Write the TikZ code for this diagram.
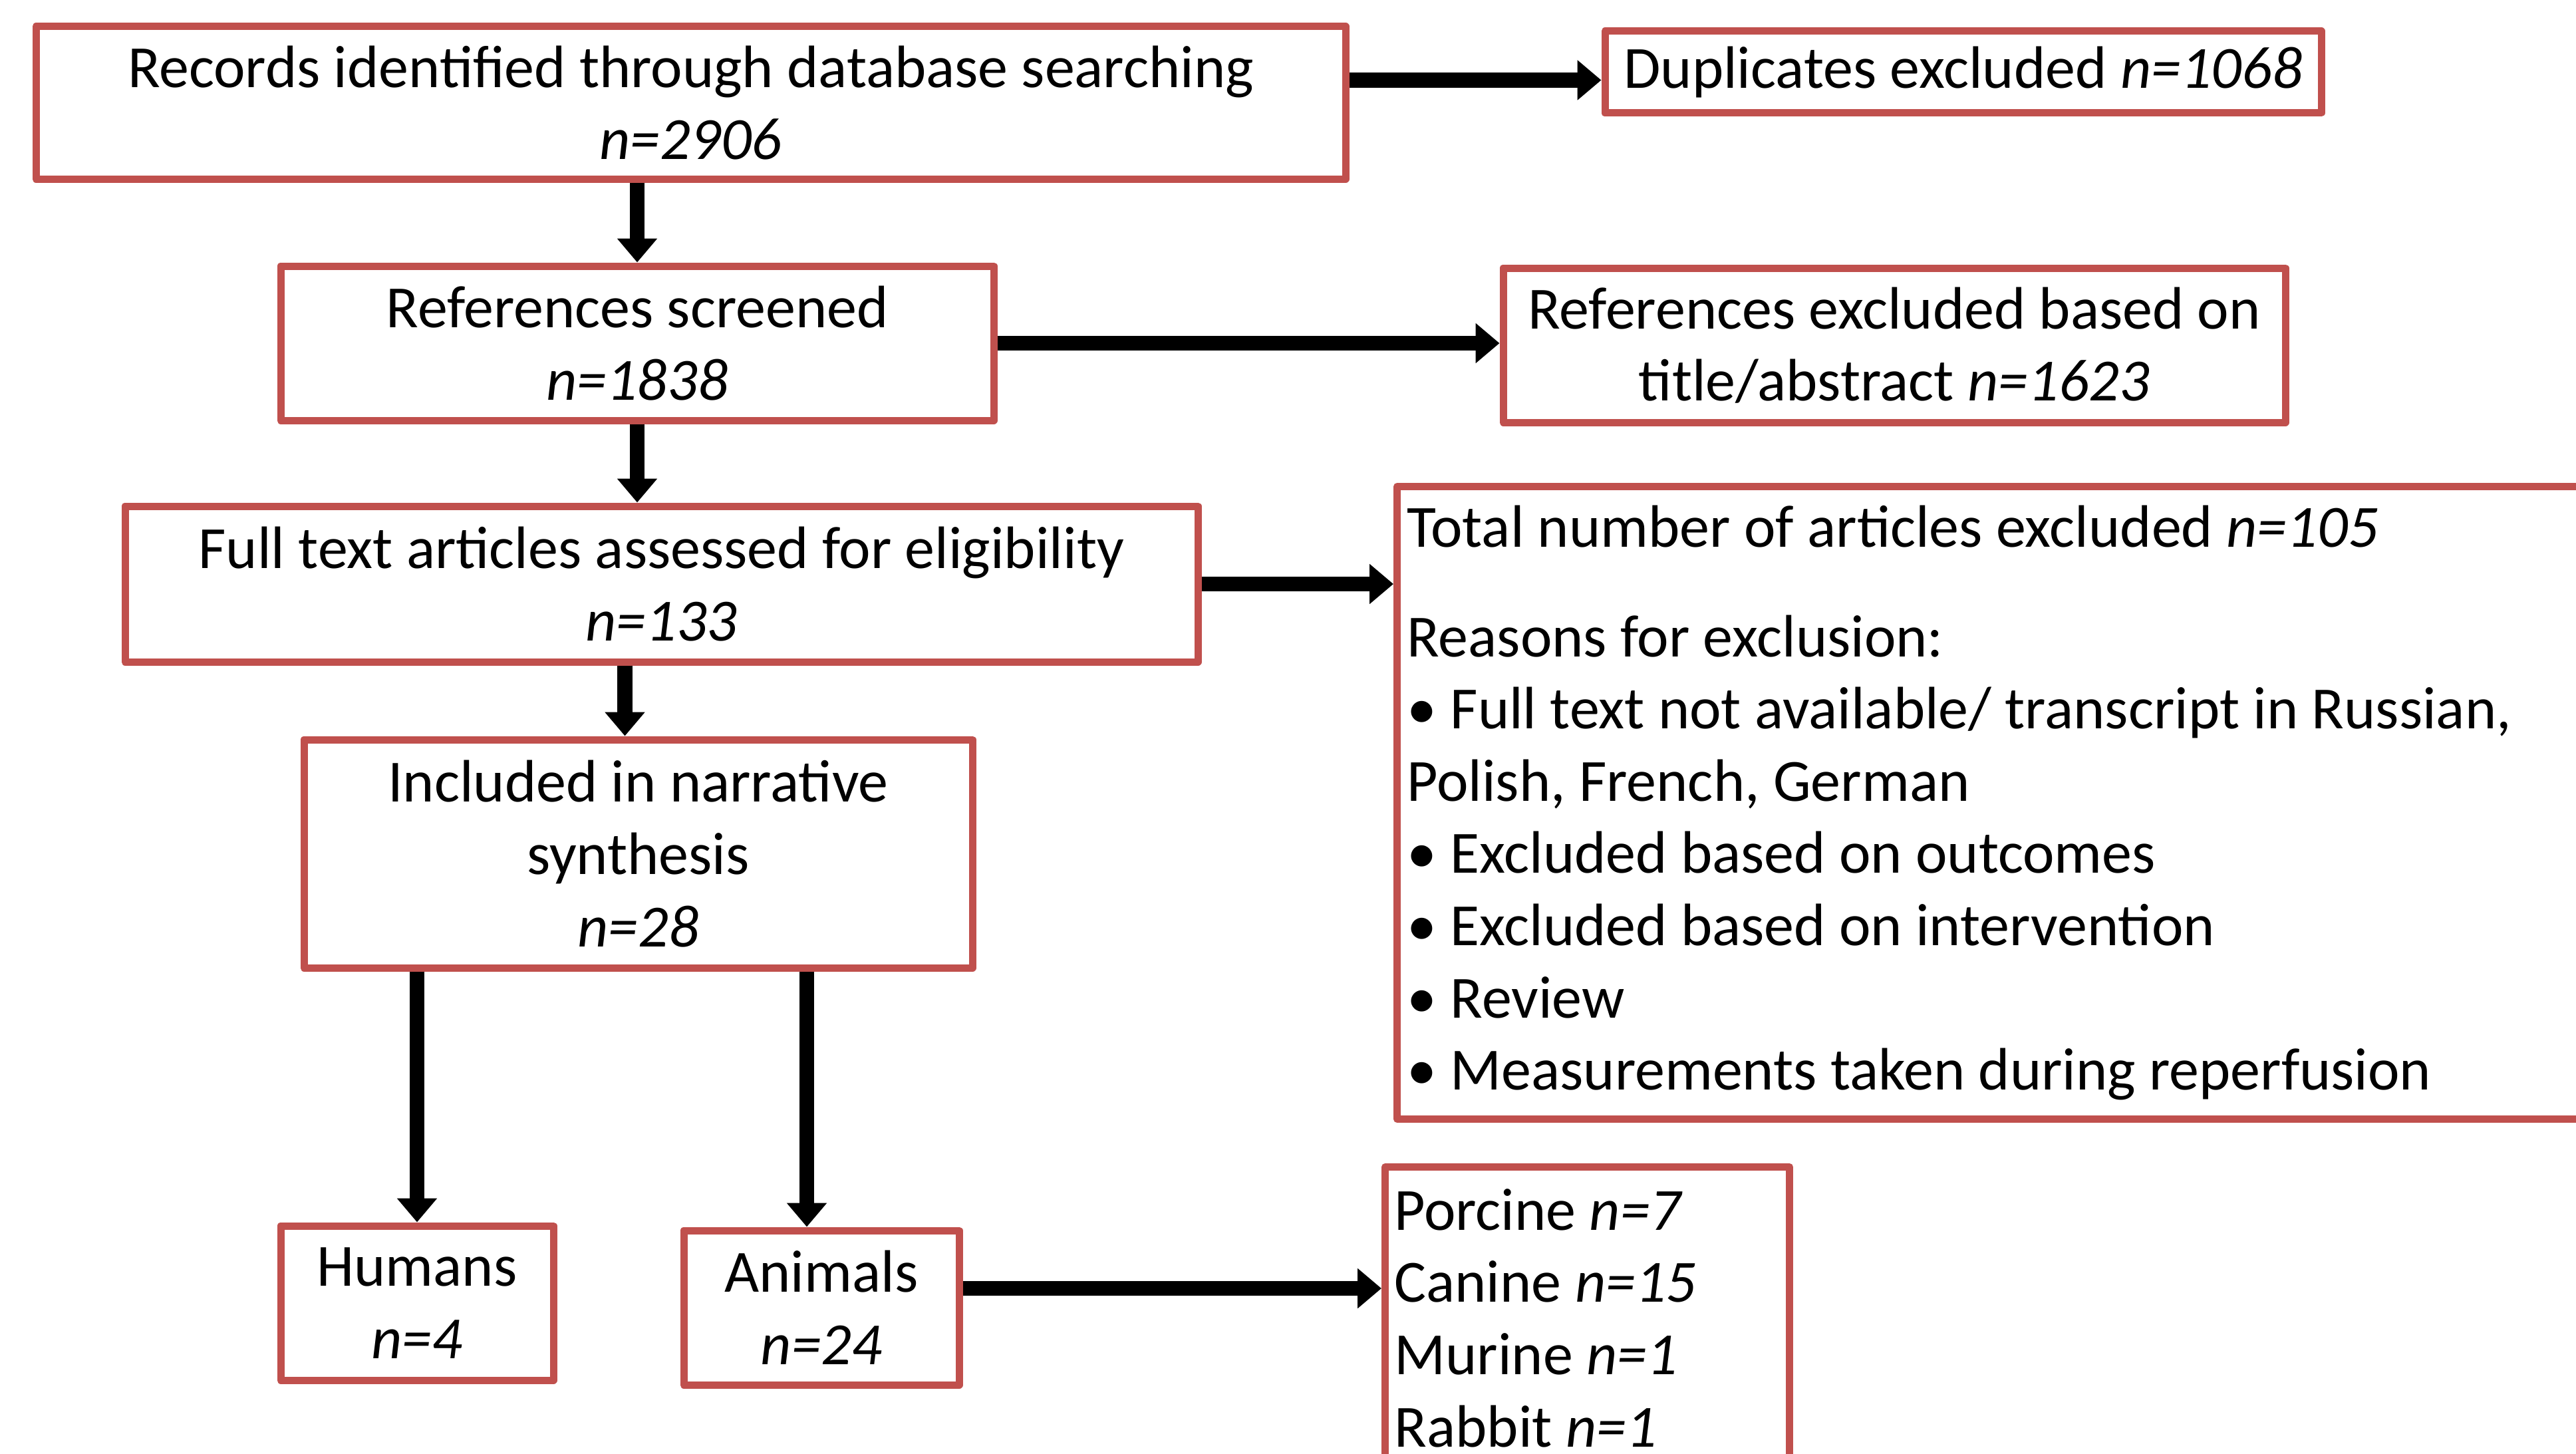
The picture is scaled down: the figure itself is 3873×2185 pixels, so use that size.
\documentclass[tikz,border=0pt]{standalone}
\usepackage{fontspec}
\setmainfont{Carlito}
\usetikzlibrary{arrows.meta,calc}
\newlength\pxu
\setlength\pxu{0.01cm}
\definecolor{boxred}{HTML}{C0504D}
\newcommand\mainfs{\fontsize{25.6pt}{30.9pt}\selectfont}
% keep the font's own word spacing inside left-aligned nodes
\newcommand\fontspaces{\spaceskip=0pt\xspaceskip=0pt\relax}
\begin{document}
\begin{tikzpicture}[x=0.01cm, y=-0.01cm,
  box/.style={draw=boxred, line width=11\pxu, line join=round, fill=white,
    inner sep=0pt, align=center, font=\mainfs},
  listbox/.style={box, align=left, inner xsep=9\pxu, anchor=north west},
  arr/.style={line width=6.5pt, -{Triangle[length=10.2pt, width=16.5pt]}}]

\path[use as bounding box, fill=white] (0,0) rectangle (3873,2185);

% flow boxes
\node[box, minimum width=1969\pxu, minimum height=229\pxu] (rec) at (1038.5,154.5)
  {Records identified through database searching\\ \textit{n=2906}};
\node[box, minimum width=1077\pxu, minimum height=123\pxu] (dup) at (2951.5,108.5)
  {Duplicates excluded \textit{n=1068}};
\node[box, minimum width=1072\pxu, minimum height=232\pxu] (scr) at (958,516)
  {References screened\\ \textit{n=1838}};
\node[box, minimum width=1176\pxu, minimum height=232\pxu] (exc) at (2848,519)
  {References excluded based on\\ title/abstract \textit{n=1623}};
\node[box, minimum width=1613\pxu, minimum height=234\pxu] (full) at (994.5,878)
  {Full text articles assessed for eligibility\\ \textit{n=133}};
\node[box, minimum width=1005\pxu, minimum height=343\pxu] (inc) at (959.5,1283.5)
  {Included in narrative\\ synthesis\\ \textit{n=28}};
\node[box, minimum width=410\pxu, minimum height=232\pxu] (hum) at (627,1959)
  {Humans\\ \textit{n=4}};
\node[box, minimum width=414\pxu, minimum height=232\pxu] (ani) at (1235,1966)
  {Animals\\ \textit{n=24}};

% exclusion details
\node[listbox, minimum width=1900\pxu, minimum height=951\pxu, text width=1870\pxu]
  (why) at (2095,726)
  {\fontspaces Total number of articles excluded \textit{n=105}\\[16pt]
   Reasons for exclusion:\\
   • Full text not available/ transcript in Russian,\\
   Polish, French, German\\
   • Excluded based on outcomes\\
   • Excluded based on intervention\\
   • Review\\
   • Measurements taken during reperfusion};

% species breakdown
\node[listbox, minimum width=608\pxu, minimum height=454\pxu, text width=580\pxu]
  (spe) at (2077,1749)
  {\fontspaces Porcine \textit{n=7}\\
   Canine \textit{n=15}\\
   Murine \textit{n=1}\\
   Rabbit \textit{n=1}};

% connectors
\coordinate (dupin) at ($(dup.west)+(0,12)$);
\draw[arr] (rec.east |- dupin) -- (dupin);
\draw[arr] (rec.south -| scr.north) -- (scr.north);
\draw[arr] (scr.east) -- (exc.west |- scr.east);
\draw[arr] (scr.south) -- (full.north -| scr.south);
\draw[arr] (full.east) -- (why.west |- full.east);
\coordinate (incin) at ($(inc.north)+(-20,0)$);
\draw[arr] (full.south -| incin) -- (incin);
\draw[arr] (inc.south -| hum.north) -- (hum.north);
\coordinate (aniin) at ($(ani.north)+(-22,0)$);
\draw[arr] (inc.south -| aniin) -- (aniin);
\coordinate (aniout) at ($(ani.east)+(0,-29)$);
\draw[arr] (aniout) -- (spe.west |- aniout);

\end{tikzpicture}
\end{document}
